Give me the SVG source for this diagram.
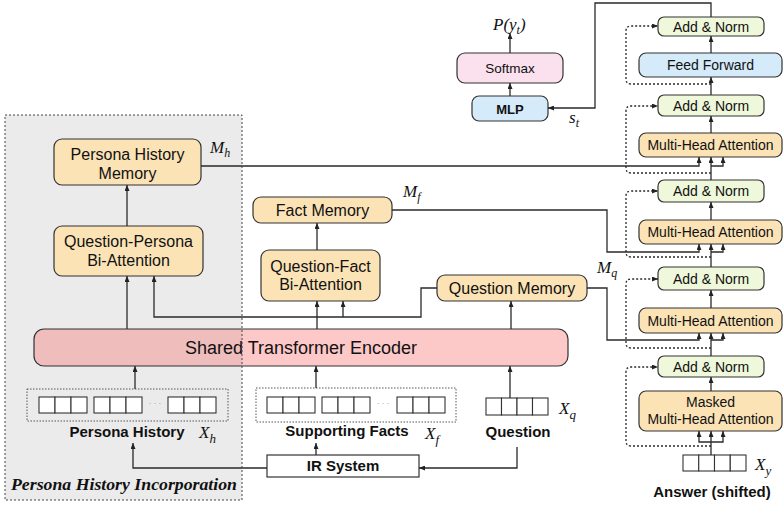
<svg xmlns="http://www.w3.org/2000/svg" width="783" height="508" viewBox="0 0 783 508">
<defs>
<marker id="arr" viewBox="0 0 12 10" refX="12" refY="5" markerWidth="6" markerHeight="5" orient="auto" markerUnits="userSpaceOnUse"><path d="M0,0 L12,5 L0,10 z" fill="#222"/></marker>
<style>
.n{fill:#fbe3b6;stroke:#333;stroke-width:1.2}
.an{fill:#eff8da;stroke:#333;stroke-width:1.2}
.bl{fill:#d5ebfa;stroke:#333;stroke-width:1.2}
.pk{fill:#fbe0ee;stroke:#333;stroke-width:1.2}
.t16{font-family:"Liberation Sans",Arial,sans-serif;font-size:16px;fill:#111;text-anchor:middle}
.t14{font-family:"Liberation Sans",Arial,sans-serif;font-size:14px;fill:#111;text-anchor:middle}
.b15{font-family:"Liberation Sans",Arial,sans-serif;font-size:15px;font-weight:bold;fill:#111;text-anchor:middle}
.m{font-family:"Liberation Serif","Times New Roman",serif;font-size:17px;font-style:italic;fill:#111}
.c{fill:none;stroke:#2a2a2a;stroke-width:1.3}
.ca{fill:none;stroke:#2a2a2a;stroke-width:1.3;marker-end:url(#arr)}
.d{fill:none;stroke:#2a2a2a;stroke-width:1.3;stroke-dasharray:2,2;marker-end:url(#arr)}
.cell{fill:#fff;stroke:#333;stroke-width:1.1}
.dbox{stroke:#555;stroke-width:1;stroke-dasharray:1.5,1.5}
</style>
</defs>
<rect width="783" height="508" fill="#fff"/>
<!-- left panel background -->
<rect id="panel-bg" x="5" y="115" width="237" height="385" fill="#ebebeb"/>

<!-- encoder -->
<g id="encoder">
<rect x="34" y="329" width="534" height="37" rx="10" fill="#fdc8c8" stroke="#333" stroke-width="1.2"/>
<path d="M242,329 H44 A10,10 0 0 0 34,339 V356 A10,10 0 0 0 44,366 H242 Z" fill="#000" fill-opacity="0.05"/>
<text class="t16" x="301" y="354" style="font-size:18px">Shared Transformer Encoder</text>
</g>

<g id="phm"><rect class="n" x="54" y="139" width="147" height="46" rx="8"/><text class="t16" x="127.5" y="160">Persona History</text><text class="t16" x="127.5" y="179">Memory</text></g>
<g id="qpba"><rect class="n" x="54" y="226" width="149" height="50" rx="8"/><text class="t16" x="128.5" y="247">Question-Persona</text><text class="t16" x="128.5" y="266">Bi-Attention</text></g>
<g id="fact-memory"><rect class="n" x="253" y="197" width="139" height="26" rx="8"/><text class="t16" x="322.5" y="216">Fact Memory</text></g>
<g id="qfba"><rect class="n" x="261" y="250" width="119" height="51" rx="8"/><text class="t16" x="320.5" y="272">Question-Fact</text><text class="t16" x="320.5" y="290">Bi-Attention</text></g>
<g id="question-memory"><rect class="n" x="437" y="275" width="150" height="26" rx="8"/><text class="t16" x="512" y="294">Question Memory</text></g>

<!-- inputs -->
<g id="persona-input">
<rect class="dbox" x="27" y="389" width="201" height="32" fill="#ebebeb"/>
<rect class="cell" x="39" y="397" width="16" height="16"/><rect class="cell" x="55" y="397" width="16" height="16"/><rect class="cell" x="71" y="397" width="16" height="16"/>
<rect class="cell" x="94" y="397" width="16" height="16"/><rect class="cell" x="110" y="397" width="16" height="16"/><rect class="cell" x="126" y="397" width="16" height="16"/>
<text x="155" y="406" style="font-family:'Liberation Sans',sans-serif;font-size:8px;fill:#888;text-anchor:middle">· · ·</text>
<rect class="cell" x="168" y="397" width="16" height="16"/><rect class="cell" x="184" y="397" width="16" height="16"/><rect class="cell" x="200" y="397" width="16" height="16"/>
<text class="b15" x="127" y="437">Persona History</text>
<text class="m" x="199" y="438">X<tspan dy="5" font-size="13">h</tspan></text>
</g>
<g id="facts-input">
<rect class="dbox" x="256" y="388" width="200" height="34" fill="#fff"/>
<rect class="cell" x="267" y="397" width="16" height="16"/><rect class="cell" x="283" y="397" width="16" height="16"/><rect class="cell" x="299" y="397" width="16" height="16"/>
<rect class="cell" x="322" y="397" width="16" height="16"/><rect class="cell" x="338" y="397" width="16" height="16"/><rect class="cell" x="354" y="397" width="16" height="16"/>
<text x="383" y="406" style="font-family:'Liberation Sans',sans-serif;font-size:8px;fill:#888;text-anchor:middle">· · ·</text>
<rect class="cell" x="397" y="397" width="16" height="16"/><rect class="cell" x="413" y="397" width="16" height="16"/><rect class="cell" x="429" y="397" width="16" height="16"/>
<text class="b15" x="347" y="436">Supporting Facts</text>
<text class="m" x="425" y="439">X<tspan dy="5" font-size="13">f</tspan></text>
</g>
<g id="question-input">
<rect class="cell" x="486" y="398" width="15.5" height="17"/><rect class="cell" x="501.5" y="398" width="15.5" height="17"/><rect class="cell" x="517" y="398" width="15.5" height="17"/><rect class="cell" x="532.5" y="398" width="15.5" height="17"/>
<text class="b15" x="518" y="437">Question</text>
<text class="m" x="559" y="414">X<tspan dy="5" font-size="13">q</tspan></text>
</g>
<g id="ir-system"><rect x="267" y="455" width="152" height="22" fill="#fff" stroke="#333" stroke-width="1.2"/><text class="b15" x="343" y="471">IR System</text></g>

<!-- decoder -->
<g id="an1"><rect class="an" x="658" y="17" width="106" height="19" rx="6"/><text class="t14" x="711" y="31.5">Add &amp; Norm</text></g>
<g id="ff"><rect class="bl" x="639" y="53" width="143" height="24" rx="7"/><text class="t14" x="710.5" y="70">Feed Forward</text></g>
<g id="an3"><rect class="an" x="658" y="95" width="106" height="21" rx="6"/><text class="t14" x="711" y="110.5">Add &amp; Norm</text></g>
<g id="mha4"><rect class="n" x="639" y="133" width="143" height="24" rx="7"/><text class="t14" x="710.5" y="150">Multi-Head Attention</text></g>
<g id="an5"><rect class="an" x="658" y="180" width="106" height="22" rx="6"/><text class="t14" x="711" y="196">Add &amp; Norm</text></g>
<g id="mha6"><rect class="n" x="639" y="220" width="143" height="24" rx="7"/><text class="t14" x="710.5" y="237">Multi-Head Attention</text></g>
<g id="an7"><rect class="an" x="658" y="267" width="106" height="23" rx="6"/><text class="t14" x="711" y="283.5">Add &amp; Norm</text></g>
<g id="mha8"><rect class="n" x="639" y="308" width="143" height="25" rx="7"/><text class="t14" x="710.5" y="325.5">Multi-Head Attention</text></g>
<g id="an9"><rect class="an" x="658" y="356" width="106" height="21" rx="6"/><text class="t14" x="711" y="371.5">Add &amp; Norm</text></g>
<g id="masked-mha"><rect class="n" x="639" y="391" width="143" height="40" rx="7"/><text class="t14" x="710.5" y="407">Masked</text><text class="t14" x="710.5" y="424">Multi-Head Attention</text></g>
<g id="answer-input">
<rect class="cell" x="683" y="455" width="15.75" height="16"/><rect class="cell" x="698.75" y="455" width="15.75" height="16"/><rect class="cell" x="714.5" y="455" width="15.75" height="16"/><rect class="cell" x="730.25" y="455" width="15.75" height="16"/>
<text class="m" x="755" y="470">X<tspan dy="5" font-size="13">y</tspan></text>
<text class="b15" x="712" y="497">Answer (shifted)</text>
</g>
<g id="mlp"><rect class="bl" x="472" y="96" width="76" height="25" rx="7"/><text class="t14" x="510" y="113.5" style="font-weight:bold;font-size:13px">MLP</text></g>
<g id="softmax"><rect class="pk" x="457" y="53" width="106" height="30" rx="8"/><text class="t14" x="510" y="72.5" style="font-size:13.5px">Softmax</text></g>

<!-- labels -->
<g id="labels">
<text class="m" x="493" y="30">P(y<tspan dy="4" font-size="12">t</tspan><tspan dy="-4">)</tspan></text>
<text class="m" x="569" y="123">s<tspan dy="4" font-size="12">t</tspan></text>
<text class="m" x="210" y="153">M<tspan dy="4" font-size="12">h</tspan></text>
<text class="m" x="403" y="197">M<tspan dy="4" font-size="12">f</tspan></text>
<text class="m" x="597" y="273">M<tspan dy="4" font-size="12">q</tspan></text>
</g>

<!-- connectors -->
<g id="connectors">
<path class="ca" d="M127,226 V185"/>
<path class="ca" d="M127,329 V276"/>
<path class="ca" d="M437,288 H421 V317 H154 V276"/>
<path class="ca" d="M343,317 V301"/>
<path class="ca" d="M317,329 V301"/>
<path class="ca" d="M317,250 V223"/>
<path class="ca" d="M511,329 V301"/>
<path class="ca" d="M135,389 V366"/>
<path class="ca" d="M316,388 V366"/>
<path class="ca" d="M510,398 V366"/>
<path class="ca" d="M267,468 H133 V443"/>
<path class="ca" d="M316,455 V443"/>
<path class="ca" d="M517,447 V468 H419"/>
<!-- memories to decoder -->
<path class="ca" d="M201,166 H699 V157"/>
<path class="ca" d="M392,210 H607 V252 H699 V244"/>
<path class="ca" d="M587,288 H607 V340 H699 V333"/>
<!-- decoder trunk -->
<path class="ca" d="M711,455 V431"/>
<path class="ca" d="M711,442 H699 V431"/>
<path class="ca" d="M711,442 H723 V431"/>
<path class="ca" d="M711,391 V377"/>
<path class="ca" d="M711,356 V333"/>
<path class="ca" d="M711,340 H723 V333"/>
<path class="ca" d="M711,308 V290"/>
<path class="ca" d="M711,267 V244"/>
<path class="ca" d="M711,252 H723 V244"/>
<path class="ca" d="M711,220 V202"/>
<path class="ca" d="M711,180 V157"/>
<path class="ca" d="M711,166 H723 V157"/>
<path class="ca" d="M711,133 V116"/>
<path class="ca" d="M711,95 V77"/>
<path class="ca" d="M711,53 V36"/>
<path class="ca" d="M711,17 V3 H595 V108 H548"/>
<path class="ca" d="M510,96 V83"/>
<path class="ca" d="M510,53 V33"/>
<!-- residuals -->
<path class="d" d="M711,446 H631 Q626,446 626,441 V372 Q626,367 631,367 H658"/>
<path class="d" d="M711,348 H631 Q626,348 626,343 V284 Q626,279 631,279 H658"/>
<path class="d" d="M711,257 H631 Q626,257 626,252 V196 Q626,191 631,191 H658"/>
<path class="d" d="M711,173 H631 Q626,173 626,168 V111 Q626,106 631,106 H658"/>
<path class="d" d="M711,84 H631 Q626,84 626,79 V31 Q626,26 631,26 H658"/>
</g>

<!-- left panel border and title -->
<g id="persona-history-incorporation">
<rect x="5" y="115" width="237" height="385" fill="none" stroke="#444" stroke-width="1" stroke-dasharray="2,2"/>
<text x="11" y="490" textLength="226" lengthAdjust="spacingAndGlyphs" style="font-family:'Liberation Serif','Times New Roman',serif;font-size:17px;font-weight:bold;font-style:italic;fill:#111">Persona History Incorporation</text>
</g>
</svg>
